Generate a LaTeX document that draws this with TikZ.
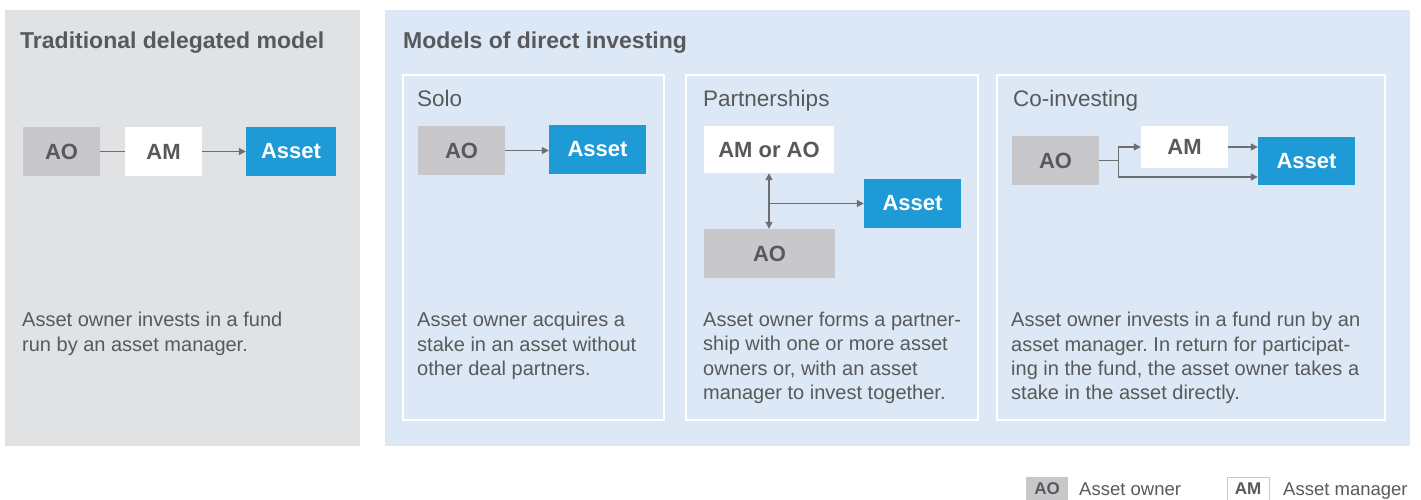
\documentclass[tikz,border=0pt]{standalone}
\usepackage{fontspec}
\setmainfont{Liberation Sans}
\usetikzlibrary{arrows.meta}
\definecolor{txtGray}{HTML}{58595B}
\definecolor{lineGray}{HTML}{6D6E71}
\definecolor{ownerGray}{HTML}{C8C8CA}
\definecolor{assetBlue}{HTML}{1E9AD6}
\definecolor{leftPanel}{HTML}{E1E2E4}
\definecolor{rightPanel}{HTML}{DCE8F5}
\frenchspacing
\begin{document}
\begin{tikzpicture}
[x=1pt,y=-1pt,
  boxDecorate/.style={inner sep=0pt,font=\fontsize{22}{26}\selectfont\bfseries},
  ownerBox/.style={boxDecorate,fill=ownerGray,text=txtGray},
  managerBox/.style={boxDecorate,fill=white,text=txtGray},
  assetBox/.style={boxDecorate,fill=assetBlue,text=white},
  lineDecorate/.style={draw=lineGray,line width=1.2pt},
  arrowDecorate/.style={lineDecorate,-{Triangle[length=7pt,width=7pt]}},
  titleDecorate/.style={anchor=base west,inner sep=0pt,text=txtGray,font=\fontsize{23}{27}\selectfont\bfseries},
  headDecorate/.style={anchor=base west,inner sep=0pt,text=txtGray,font=\fontsize{22.5}{27}\selectfont},
  noteDecorate/.style={anchor=north west,inner sep=0pt,align=left,text=txtGray,font=\fontsize{20}{24.3}\selectfont},
  legendDecorate/.style={anchor=base west,inner sep=0pt,text=txtGray,font=\fontsize{18.5}{22}\selectfont}]
\useasboundingbox (0,0) rectangle (1421,499);
%% panels
\fill[leftPanel] (5,10) rectangle (360,446);
\fill[rightPanel] (385,10) rectangle (1410,446);
\foreach \xa/\xb in {403/664, 686/978, 997/1385}
  \draw[white,line width=2pt] (\xa,75) rectangle (\xb,420);
%% titles
\node[titleDecorate] (tradTitle) at (20,48.5) {Traditional delegated model};
\node[titleDecorate] (directTitle) at (403,48.5) {Models of direct investing};
\foreach \nodename/\x/\label in {soloHead/417/Solo, partHead/703/Partnerships, coHead/1013/Co-investing}
  \node[headDecorate] (\nodename) at (\x,106.5) {\label};
%% boxes
\foreach \nodename/\x/\y/\w/\h/\kind/\label in {
  lAO/61.5/151.5/77/49/ownerBox/AO, lAM/163.5/151.5/77/49/managerBox/AM,
  lAsset/291/151.5/90/49/assetBox/Asset,
  sAO/461.5/150.5/87/49/ownerBox/AO, sAsset/597.5/149.5/97/49/assetBox/Asset,
  pAMAO/769/149.5/130/47/managerBox/AM or AO, pAsset/912.5/203.5/97/49/assetBox/Asset,
  pAO/769.5/253.5/131/49/ownerBox/AO,
  cAO/1055.5/160.5/87/49/ownerBox/AO, cAM/1184.5/147/87/42/managerBox/AM,
  cAsset/1306.5/161/97/48/assetBox/Asset}
{
  \node[\kind,minimum width=\w pt,minimum height=\h pt] (\nodename) at (\x,\y) {\label};
}
%% connectors
\draw[lineDecorate] (lAO) -- (lAM);
\draw[arrowDecorate] (lAM) -- (lAsset);
\draw[arrowDecorate] (sAO.east) -- (sAO.east -| sAsset.west);
\draw[lineDecorate,{Triangle[length=7pt,width=7pt]}-{Triangle[length=7pt,width=7pt]}]
  (pAMAO.south) -- (pAMAO.south |- pAO.north);
\draw[arrowDecorate] (pAMAO.south |- pAsset.west) -- (pAsset.west);
\coordinate (cSplit) at ([xshift=19pt]cAO.east);
\draw[lineDecorate] (cAO.east) -- (cSplit);
\draw[arrowDecorate] (cSplit) |- (cAM.west);
\draw[arrowDecorate] (cSplit) |- ([yshift=-16pt]cAsset.west);
\draw[arrowDecorate] (cAM.east) -- (cAM.east -| cAsset.west);
%% notes
\node[noteDecorate] (tradNote) at (22,312) {Asset owner invests in a fund\\run by an asset manager.};
\node[noteDecorate] (soloNote) at (417,312) {Asset owner acquires a\\stake in an asset without\\other deal partners.};
\node[noteDecorate] (partNote) at (703,312) {Asset owner forms a partner-\\ship with one or more asset\\owners or, with an asset\\manager to invest together.};
\node[noteDecorate] (coNote) at (1011,312) {Asset owner invests in a fund run by an\\asset manager. In return for participat-\\ing in the fund, the asset owner takes a\\stake in the asset directly.};
%% legend
\node[ownerBox,minimum width=42pt,minimum height=24pt,font=\fontsize{17}{20}\selectfont\bfseries] (legAO) at (1047,489) {AO};
\node[legendDecorate] (legAOText) at (1079,495) {Asset owner};
\node[managerBox,draw=ownerGray,line width=1pt,minimum width=42pt,minimum height=24pt,font=\fontsize{17}{20}\selectfont\bfseries] (legAM) at (1248,489) {AM};
\node[legendDecorate] (legAMText) at (1283,495) {Asset manager};
\end{tikzpicture}
\end{document}
